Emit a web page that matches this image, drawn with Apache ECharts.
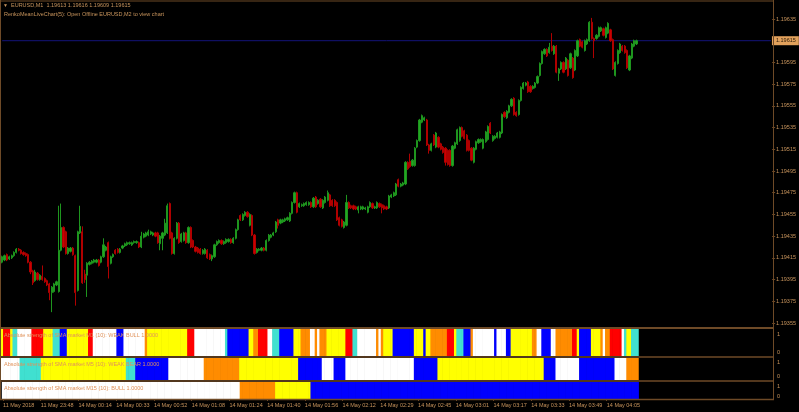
<!DOCTYPE html>
<html>
<head>
<meta charset="utf-8">
<script src="https://cdn.jsdelivr.net/npm/echarts@6/dist/echarts.min.js"></script>
<style>
html, body { margin: 0; padding: 0; background: #000; }
#chart { width: 799px; height: 412px; }
</style>
</head>
<body>
<div id="chart"></div>
<script>
// EURUSD M1 bars, prices in points above 1.19000 (1 point = 0.00001)
var opens = [
	411,413,418,414,415,417,420,423,422,420,
	419,418,411,403,394,401,395,398,396,394,
	391,383,384,390,384,422,443,439,419,421,
	424,417,385,438,439,400,399,409,410,411,
	411,413,411,416,422,429,410,416,422,423,
	420,424,426,427,428,427,429,429,429,425,
	434,435,436,437,436,438,438,428,433,436,
	438,465,438,419,433,447,430,431,438,429,
	443,431,425,424,423,419,419,422,418,414,
	416,427,429,431,428,429,430,432,429,433,
	441,454,450,454,457,445,454,436,420,422,
	422,424,422,431,434,436,439,450,447,448,
	449,450,449,456,466,475,462,463,463,464,
	464,466,462,471,465,469,461,466,468,473,
	468,468,466,452,450,443,445,466,463,463,
	462,459,460,460,460,457,462,465,461,461,
	465,464,463,462,461,471,472,473,487,481,
	482,483,503,504,500,500,517,523,540,542,
	542,519,514,528,517,526,520,517,516,514,
	514,500,516,520,523,535,532,528,523,516,
	503,515,521,522,516,522,524,539,523,525,
	526,526,530,549,544,549,555,562,549,547,
	560,571,574,577,573,571,572,576,583,594,
	603,607,604,610,603,610,585,589,595,589,
	597,590,599,588,601,616,614,606,612,615,
	632,617,617,619,624,626,618,622,625,616,
	583,594,604,610,610,606,588,599,610,612
];
var closes = [
	416,417,413,416,417,420,423,422,419,418,
	417,411,402,392,402,395,399,395,393,390,
	383,388,391,393,422,443,425,419,424,424,
	418,383,439,444,392,395,410,411,412,413,
	413,408,416,427,425,407,416,418,419,420,
	423,426,428,429,429,429,430,430,425,435,
	437,438,439,439,438,435,429,435,438,447,
	463,433,419,433,447,429,437,438,429,443,
	425,425,421,420,419,422,423,415,414,417,
	427,430,431,428,430,432,432,429,433,441,
	450,450,455,457,453,455,436,419,423,423,
	424,422,431,436,436,438,448,445,450,450,
	451,452,456,466,475,457,465,464,465,466,
	466,462,470,462,468,462,468,471,475,463,
	463,463,450,445,444,448,466,461,461,460,
	460,462,462,462,461,462,466,461,462,466,
	462,461,460,460,472,473,475,483,481,483,
	484,503,497,499,505,516,523,542,546,544,
	519,514,520,519,530,517,515,512,503,501,
	500,518,521,533,535,527,525,514,514,505,
	516,522,524,524,524,531,536,530,527,527,
	530,531,547,545,550,555,561,547,546,560,
	572,576,576,568,568,573,576,582,594,605,
	607,601,609,606,610,586,589,595,586,599,
	583,603,581,606,615,610,609,615,616,632,
	617,615,620,627,627,620,627,631,615,589,
	595,606,612,606,604,590,601,612,615,615
];
var highs = [
	417,418,419,417,418,421,424,424,423,421,
	420,419,412,404,404,402,400,408,397,395,
	392,389,392,394,463,465,444,440,425,425,
	425,418,440,463,444,404,411,412,413,414,
	414,414,417,433,426,430,417,419,423,424,
	424,427,429,430,430,430,431,431,430,439,
	438,439,441,440,439,439,439,436,439,451,
	465,466,439,434,448,448,438,439,439,444,
	444,432,426,425,424,423,424,423,419,418,
	428,431,432,432,431,433,433,433,434,442,
	451,455,456,458,458,456,455,437,424,424,
	425,425,432,437,437,439,449,451,451,451,
	452,453,457,467,476,476,466,465,466,467,
	467,467,471,472,469,470,469,472,477,474,
	469,469,467,453,451,449,473,467,464,464,
	463,463,463,463,462,463,467,466,463,467,
	466,465,464,463,473,474,476,484,488,484,
	485,504,504,511,506,517,524,543,547,545,
	543,520,521,529,531,527,521,518,517,515,
	515,519,522,534,536,536,533,529,524,517,
	517,523,525,525,525,532,537,540,528,528,
	531,532,548,550,551,556,562,563,550,561,
	573,577,577,578,574,574,577,583,595,606,
	608,608,613,622,611,611,590,596,596,600,
	598,604,600,607,616,617,615,616,617,633,
	636,618,621,628,628,627,628,632,626,617,
	596,607,613,611,611,607,602,613,616,616
];
var lows = [
	410,412,412,413,414,416,419,421,418,417,
	416,410,400,390,393,394,394,394,392,389,
	376,365,383,389,383,421,424,418,418,420,
	417,371,384,437,391,392,379,408,409,410,
	410,407,410,415,421,396,409,415,418,419,
	419,423,425,426,427,426,428,428,424,424,
	433,434,435,436,435,434,428,422,422,435,
	437,432,418,418,432,428,429,430,428,428,
	424,424,420,419,418,418,418,414,413,412,
	415,426,428,427,427,428,429,428,428,432,
	440,449,449,453,452,444,435,418,419,421,
	421,421,421,430,433,435,438,442,446,447,
	448,449,448,455,465,456,461,462,462,463,
	463,461,461,461,464,461,460,465,467,462,
	462,462,449,444,443,442,444,460,460,459,
	459,456,459,459,459,456,461,460,460,460,
	461,456,459,459,460,470,471,472,480,480,
	481,482,496,498,499,499,516,522,539,541,
	518,511,513,518,516,516,514,511,500,500,
	499,499,515,519,522,526,524,513,513,504,
	502,514,520,521,515,521,523,529,522,524,
	525,525,529,544,543,548,554,546,545,546,
	559,570,573,567,567,570,571,575,582,593,
	602,600,603,605,602,585,578,588,585,588,
	582,589,580,587,600,609,608,605,611,614,
	616,599,616,618,623,619,617,621,614,588,
	582,593,603,605,603,589,587,598,609,611
];

var tickLabels = ['11 May 2018', '11 May 23:48', '14 May 00:14', '14 May 00:33', '14 May 00:52',
	'14 May 01:08', '14 May 01:24', '14 May 01:40', '14 May 01:56', '14 May 02:12', '14 May 02:29',
	'14 May 02:45', '14 May 03:01', '14 May 03:17', '14 May 03:33', '14 May 03:49', '14 May 04:05'];
var barsPerLabel = 16;
var slotCount = 327; // bar slots across the chart width, incl. empty space on the right

// indicator states, as runs of [state, number of bars]
var m1Runs = [['Y',1],['R',3],['Y',1],['T',2],['W',6],['R',5],['Y',4],['T',3],['B',3],['Y',9],
	['R',2],['W',10],['B',3],['W',9],['O',1],['Y',17],['R',3],['W',13],['T',1],['B',9],
	['Y',2],['O',2],['R',4],['W',2],['T',3],['B',6],['Y',3],['O',4],['W',2],['O',1],
	['W',1],['O',3],['Y',8],['R',3],['T',2],['W',8],['O',1],['W',1],['O',1],['Y',4],
	['B',9],['Y',4],['B',1],['Y',2],['O',7],['R',3],['Y',1],['T',3],['B',3],['O',1],
	['W',9],['B',1],['W',4],['B',2],['Y',9],['O',2],['W',2],['B',4],['W',2],['O',7],
	['R',2],['Y',1],['B',5],['Y',4],['O',1],['W',1],['O',2],['R',5],['W',1],['T',1],
	['Y',2],['T',3]];
var m5Runs = [['W',8],['T',9],['Y',36],['T',4],['B',14],['W',15],['O',15],['Y',25],['B',10],
	['W',5],['B',5],['W',29],['B',10],['Y',45],['B',5],['W',10],['B',15],['W',5],['O',5]];
var m15Runs = [['W',101],['O',15],['Y',15],['B',139]];
var stateColors = { W: '#ffffff', Y: '#ffff00', R: '#ff0000', T: '#40e0d0', B: '#0000ff', O: '#ff8c00' };

var symbol = 'EURUSD,M1';
var quote = [1.19613, 1.19616, 1.19609, 1.19615];
var bidPrice = 1.19615;
var infoLine = 'RenkoMeanLiveChart(5): Open Offline EURUSD,M2 to view chart';
var panelNames = ['Absolute strength of SMA market M1 (10): WEAK BULL 1.0000',
	'Absolute strength of SMA market M5 (10): WEAK BEAR 1.0000',
	'Absolute strength of SMA market M15 (10): BULL 1.0000'];

var frameColor = '#6e4a27';
var textColor = '#c8945c';
var font = '"Liberation Sans", Arial, sans-serif';
var fs = 5.5;

function toPrice(p) {
	return +(1.19 + p / 100000).toFixed(5);
}

function expandRuns(runs) {
	var out = [];
	runs.forEach(function(r) {
		for (var k = 0; k < r[1]; k++) {
			out.push({ value: 1, itemStyle: { color: stateColors[r[0]] } });
		}
	});
	return out;
}

var categories = [];
for (var i = 0; i < slotCount; i++) categories.push(i);

var candleData = opens.map(function(o, i) {
	return [toPrice(o), toPrice(closes[i]), toPrice(lows[i]), toPrice(highs[i])];
});

// panel geometry: top, height, and the value range of the 0/1 scale
var panels = [
	{ top: 329, height: 27, lo: -0.222, hi: 1.278, runs: m1Runs },
	{ top: 358, height: 22, lo: -0.286, hi: 1.286, runs: m5Runs },
	{ top: 382, height: 17, lo: -0.3, hi: 1.4, runs: m15Runs }
];

var showTick = function(idx) {
	return idx % barsPerLabel === 0 && idx / barsPerLabel < tickLabels.length;
};

var grids = [{ left: 1, right: 26, top: 19, height: 304 }];
var xAxes = [{ type: 'category', gridIndex: 0, data: categories, show: false }];
var yAxes = [{
	type: 'value', gridIndex: 0, position: 'right', scale: true,
	min: 1.19355, max: 1.19635, interval: 0.0002,
	splitLine: { show: false },
	axisLine: { show: false },
	axisTick: { show: true, length: 3, lineStyle: { color: frameColor } },
	axisLabel: { margin: 4, fontSize: fs, color: textColor, fontFamily: font,
		formatter: function(v) { return v.toFixed(5); } }
}];
var series = [{
	// bid line across the whole chart
	type: 'line',
	xAxisIndex: 0,
	yAxisIndex: 0,
	data: [[0, bidPrice], [slotCount - 1, bidPrice]],
	symbol: 'none',
	silent: true,
	z: 1,
	lineStyle: { color: '#13137a', width: 1 },
	endLabel: {
		show: true, distance: 1,
		formatter: bidPrice.toFixed(5),
		backgroundColor: '#e2a15c', color: '#2b1a08',
		padding: [2, 3, 1, 4], fontSize: fs, fontFamily: font
	}
}, {
	type: 'candlestick',
	xAxisIndex: 0,
	yAxisIndex: 0,
	data: candleData,
	barWidth: '72%',
	clip: false,
	z: 3,
	itemStyle: {
		color: '#22a822', color0: '#cc0000',
		borderColor: '#1e951e', borderColor0: '#b00000', borderWidth: 1
	}
}];

panels.forEach(function(p, k) {
	var g = k + 1;
	var last = k === panels.length - 1;
	grids.push({ left: 1, right: 26, top: p.top, height: p.height });
	xAxes.push(last ? {
		type: 'category', gridIndex: g, data: categories,
		axisLine: { show: false },
		axisTick: { show: true, length: 2, alignWithLabel: true, interval: showTick,
			lineStyle: { color: frameColor } },
		axisLabel: { interval: showTick, align: 'left', margin: 3, fontSize: fs,
			color: textColor, fontFamily: font,
			formatter: function(v, idx) { return tickLabels[idx / barsPerLabel]; } }
	} : { type: 'category', gridIndex: g, data: categories, show: false });
	yAxes.push({ type: 'value', gridIndex: g, min: 0, max: 1, show: false });
	yAxes.push({
		type: 'value', gridIndex: g, position: 'right', min: p.lo, max: p.hi,
		splitLine: { show: false }, axisLine: { show: false }, axisTick: { show: false },
		axisLabel: { customValues: [0, 1], margin: 4, fontSize: fs, color: textColor,
			fontFamily: font, formatter: function(v) { return String(Math.round(v)); } }
	});
	series.push({
		type: 'bar',
		xAxisIndex: g,
		yAxisIndex: yAxes.length - 2,
		data: expandRuns(p.runs),
		barWidth: 3,
		barGap: '-100%'
	});
});

var graphics = [];
function hline(y, x1, x2, w) {
	graphics.push({ type: 'line', silent: true, z: 100, shape: { x1: x1, y1: y, x2: x2, y2: y },
		style: { stroke: frameColor, lineWidth: w } });
}
function vline(x, y1, y2) {
	graphics.push({ type: 'line', silent: true, z: 100, shape: { x1: x, y1: y1, x2: x, y2: y2 },
		style: { stroke: frameColor, lineWidth: 1 } });
}
hline(1, 0, 774, 1);
hline(328, 0, 774, 2);
hline(357, 0, 774, 1.5);
hline(381, 0, 774, 1.5);
hline(399.5, 0, 774, 1.5);
vline(0.5, 0, 400);
vline(773.5, 0, 400);

function label(text, x, y, color, size) {
	graphics.push({ type: 'text', silent: true, z: 100, x: x, y: y,
		style: { text: text, fill: color, font: size + 'px ' + font, textVerticalAlign: 'middle' } });
}
label('\u25BC', 3, 5.5, textColor, 5);
label(symbol + '  ' + quote.map(function(q) { return q.toFixed(5); }).join(' '), 11, 5.5, textColor, fs);
label(infoLine, 4, 14, textColor, fs);
panels.forEach(function(p, k) {
	label(panelNames[k], 4, p.top + 6, '#e0925a', fs);
});

var chart = echarts.init(document.getElementById('chart'));
chart.setOption({
	backgroundColor: '#000000',
	animation: false,
	grid: grids,
	xAxis: xAxes,
	yAxis: yAxes,
	series: series,
	graphic: graphics
});
</script>
</body>
</html>
